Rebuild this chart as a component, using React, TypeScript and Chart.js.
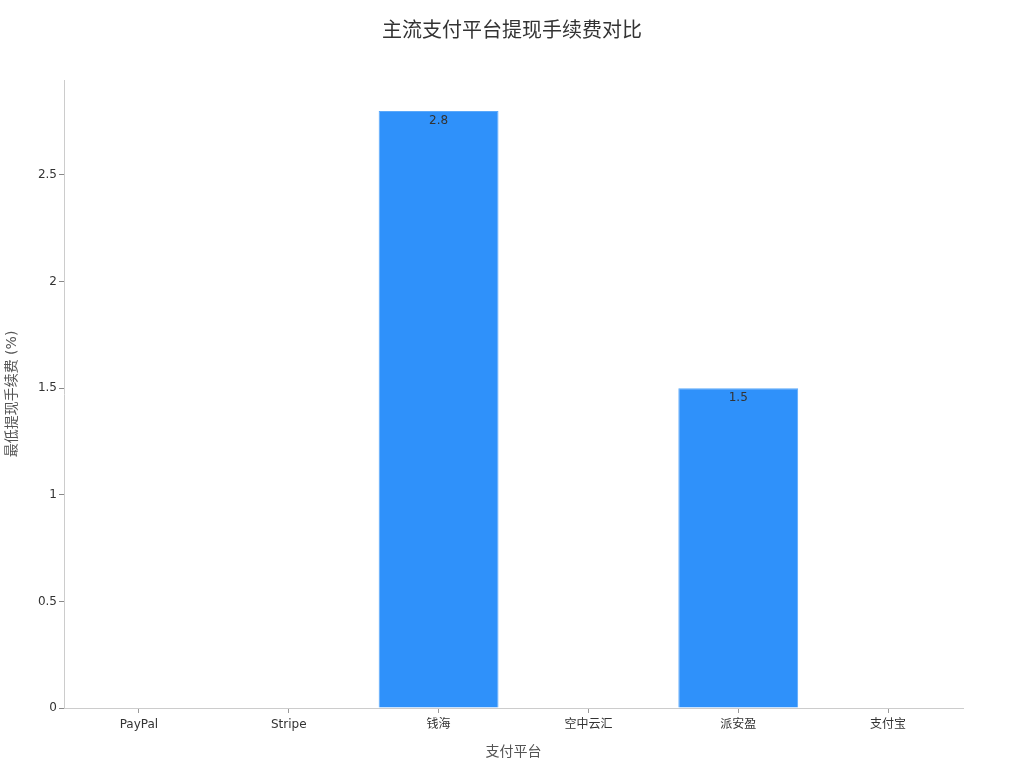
import React, { useEffect, useRef } from "react";
import { Chart, registerables } from "chart.js";

Chart.register(...registerables);

const categories = ["PayPal", "Stripe", "钱海", "空中云汇", "派安盈", "支付宝"];
const minFees = [0, 0, 2.8, 0, 1.5, 0];
const yTickStep = 0.5;
const yMax = 2.945;
const chartTitle = "主流支付平台提现手续费对比";

const FONT = "'DejaVu Sans', 'Noto Sans CJK SC', sans-serif";

const valueLabels = {
  id: "valueLabels",
  afterDatasetsDraw(chart: any) {
    const ctx = chart.ctx;
    const meta = chart.getDatasetMeta(0);
    const data = chart.data.datasets[0].data as number[];
    ctx.save();
    ctx.font = `12px ${FONT}`;
    ctx.fillStyle = "#333333";
    ctx.textAlign = "center";
    ctx.textBaseline = "middle";
    meta.data.forEach((bar: any, i: number) => {
      const v = data[i];
      if (!v) return;
      ctx.fillText(String(v), bar.x, bar.y + 10);
    });
    ctx.restore();
  },
};

const centeredTitle = {
  id: "centeredTitle",
  afterDraw(chart: any) {
    const ctx = chart.ctx;
    ctx.save();
    ctx.font = `20px ${FONT}`;
    ctx.fillStyle = "#333333";
    ctx.textAlign = "center";
    ctx.textBaseline = "middle";
    ctx.fillText(chartTitle, chart.width / 2, 32);
    ctx.restore();
  },
};

export default function App() {
  const ref = useRef<HTMLCanvasElement | null>(null);
  useEffect(() => {
    document.body.style.margin = "0";
    if (!ref.current) return;
    const chart = new Chart(ref.current, {
      type: "bar",
      data: {
        labels: categories,
        datasets: [
          {
            data: minFees,
            backgroundColor: "#2f91fa",
            borderColor: "#5aa8fa",
            borderWidth: 1,
            barPercentage: 0.8,
            categoryPercentage: 1,
          },
        ],
      },
      options: {
        animation: false,
        responsive: false,
        maintainAspectRatio: false,
        layout: { padding: { left: 0, right: 61, top: 80, bottom: 0 } },
        plugins: {
          legend: { display: false },
          tooltip: { enabled: false },
          title: { display: false },
        },
        scales: {
          x: {
            grid: {
              display: true,
              drawOnChartArea: false,
              offset: false,
              tickLength: 5,
              color: "#999999",
            },
            border: { color: "#cccccc" },
            ticks: {
              color: "#333333",
              font: { family: FONT, size: 12 },
              padding: 5,
              maxRotation: 0,
            },
            title: {
              display: true,
              text: "支付平台",
              color: "#555555",
              font: { family: FONT, size: 14 },
              padding: { top: 8, bottom: 7 },
            },
            afterFit(scale: any) {
              scale.height = 60;
            },
          },
          y: {
            min: 0,
            max: yMax,
            grid: {
              display: true,
              drawOnChartArea: false,
              tickLength: 5,
              color: "#888888",
            },
            border: { color: "#cccccc" },
            ticks: {
              stepSize: yTickStep,
              color: "#333333",
              font: { family: FONT, size: 12 },
              padding: 2,
              callback: (v: any) => String(Number(v)),
            },
            afterBuildTicks(scale: any) {
              scale.ticks = scale.ticks.filter(
                (t: any) => Math.abs(t.value / yTickStep - Math.round(t.value / yTickStep)) < 1e-6
              );
            },
            title: {
              display: true,
              text: "最低提现手续费 (%)",
              color: "#555555",
              font: { family: FONT, size: 14 },
              padding: { top: 4, bottom: 0 },
            },
            afterFit(scale: any) {
              scale.width = 64;
            },
          },
        },
      },
      plugins: [valueLabels, centeredTitle],
    });
    return () => chart.destroy();
  }, []);
  return (
    <div style={{ position: "absolute", left: 0, top: 0, width: 1024, height: 768, background: "#fff" }}>
      <canvas ref={ref} width={1024} height={768} style={{ width: 1024, height: 768 }} />
    </div>
  );
}
